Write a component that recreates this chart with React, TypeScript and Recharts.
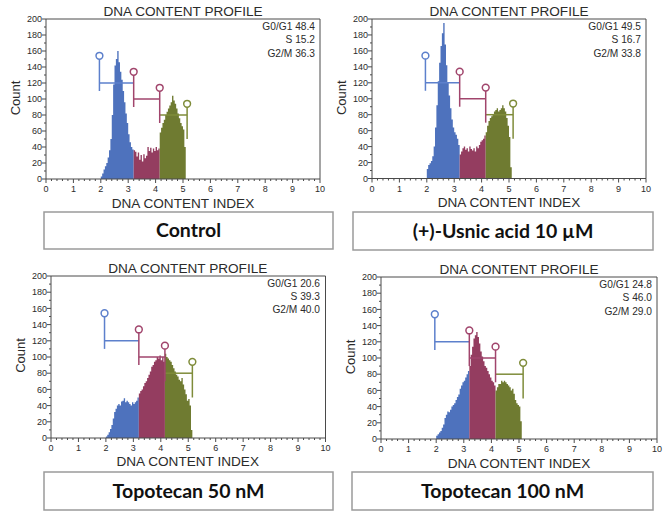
import React from 'react';
import { ComposedChart, Area, XAxis, YAxis, ReferenceLine, ReferenceDot } from 'recharts';

// ---------- data ----------
const binStart = [
  2.0, 2.05, 2.1, 2.15, 2.2, 2.25, 2.3, 2.35, 2.4, 2.45, 2.5, 2.55, 2.6, 2.65, 2.7, 2.75,
  2.8, 2.85, 2.9, 2.95, 3.0, 3.05, 3.1, 3.15, 3.2, 3.25, 3.3, 3.35, 3.4, 3.45, 3.5, 3.55,
  3.6, 3.65, 3.7, 3.75, 3.8, 3.85, 3.9, 3.95, 4.0, 4.05, 4.1, 4.15, 4.2, 4.25, 4.3, 4.35,
  4.4, 4.45, 4.5, 4.55, 4.6, 4.65, 4.7, 4.75, 4.8, 4.85, 4.9, 4.95, 5.0, 5.05, 5.1, 5.15,
];

const controlCounts = [
  3, 7, 12, 16, 20, 27, 36, 50, 80, 118, 142, 150, 160, 146, 134, 124, 110, 96, 82, 70, 56, 46, 40, 37,
  36, 34, 28, 33, 24, 30, 22, 31, 26, 29, 40, 35, 39, 33, 38, 35, 40, 36, 38,
  58, 64, 70, 74, 80, 84, 88, 92, 96, 104, 98, 94, 88, 82, 76, 70, 66, 62, 40, 0, 0,
];
const usnicCounts = [
  12, 17, 19, 22, 28, 40, 64, 92, 122, 145, 166, 182, 195, 168, 142, 120, 104, 88, 74, 64, 58, 55, 50, 42,
  30, 34, 38, 40, 36, 38, 34, 40, 37, 35, 38, 34, 40, 38, 42, 46, 48, 50, 54,
  58, 66, 72, 76, 78, 80, 84, 86, 88, 84, 86, 88, 92, 88, 84, 76, 66, 52, 14, 0, 0,
];
const topo50Counts = [
  2, 4, 7, 11, 16, 24, 32, 36, 40, 42, 40, 45, 46, 49, 44, 46, 44, 42, 40, 44, 42, 44, 46, 50,
  55, 58, 60, 64, 68, 70, 74, 78, 82, 88, 90, 94, 96, 100, 98, 102, 96, 100, 94,
  104, 100, 98, 96, 94, 90, 86, 82, 78, 76, 72, 70, 74, 66, 60, 54, 46, 48, 40, 10, 0,
];
const topo100Counts = [
  4, 6, 8, 10, 14, 18, 26, 30, 34, 33, 36, 40, 42, 44, 48, 52, 55, 62, 66, 70, 72, 76, 80, 84,
  90, 104, 114, 124, 128, 132, 126, 118, 108, 102, 96, 90, 88, 84, 80, 76, 72, 70, 66,
  60, 64, 68, 68, 72, 70, 72, 70, 68, 66, 64, 60, 62, 56, 48, 44, 42, 40, 22, 0, 0,
];

const panelNames = ['Control', '(+)-Usnic acid 10 \u00b5M', 'Topotecan 50 nM', 'Topotecan 100 nM'];
const g1Pct = [48.4, 49.5, 20.6, 24.8];
const sPct = [15.2, 16.7, 39.3, 46.0];
const g2Pct = [36.3, 33.8, 40.0, 29.0];
const allCounts = [controlCounts, usnicCounts, topo50Counts, topo100Counts];

// gate markers (DNA index) and their handle heights (count)
const gateX = [1.95, 3.2, 4.15, 5.15];
const gateTop = [154, 134, 114, 94];
const gateBar = [120, 100, 80];
const gateLow = [110, 90, 70, 50];

const yTickLabels = [0, 20, 40, 60, 80, 100, 120, 140, 160, 180, 200];
const xTickLabels = [0, 1, 2, 3, 4, 5, 6, 7, 8, 9, 10];

// ---------- styles / layout ----------
const FILL = { g1: '#4e72bd', s: '#943d60', g2: '#6f7b31' };
const LINE = { g1: '#5d80cc', s: '#a1456c', g2: '#7f8c3a' };
const AXIS = '#4a4a4a';
const TXT = '#2b2b2b';
const ARIAL = '"Liberation Sans", Arial, sans-serif';

const layout = [
  { L: 46, R: 320, T: 19, B: 179, box: { l: 44, t: 212, r: 333, b: 249 } },
  { L: 372, R: 646, T: 19, B: 178.5, box: { l: 353, t: 212, r: 653, b: 250 } },
  { L: 50.5, R: 325, T: 275.5, B: 437.5, box: { l: 44, t: 472, r: 333, b: 510 } },
  { L: 381, R: 657, T: 277, B: 439, box: { l: 352, t: 472, r: 653, b: 510 } },
];

const yTicks = yTickLabels.flatMap((v) => (v < 200 ? [v, v + 10] : [v]));
const xTicks = xTickLabels.flatMap((v) => (v < 10 ? [v, v + 0.2, v + 0.4, v + 0.6, v + 0.8] : [v]));

const buildRows = (counts: number[]) =>
  binStart.map((x, i) => {
    const v = counts[i];
    const phase = x < gateX[1] ? 'g1' : x < gateX[2] ? 's' : 'g2';
    return { x, g1: phase === 'g1' ? v : 0, s: phase === 's' ? v : 0, g2: phase === 'g2' ? v : 0 };
  });

const XTick = (props: any) => {
  const { x, y, payload } = props;
  const v = payload.value as number;
  const major = Math.abs(v - Math.round(v)) < 1e-6;
  return (
    <g>
      <line x1={x} x2={x} y1={y} y2={y + (major ? 4 : 2)} stroke={AXIS} strokeWidth={1} />
      {major && (
        <text x={x} y={y + 13} textAnchor="middle" fontSize={9} fill={TXT} fontFamily={ARIAL}>
          {Math.round(v)}
        </text>
      )}
    </g>
  );
};

const YTick = (props: any) => {
  const { x, y, payload } = props;
  const v = payload.value as number;
  const major = v % 20 === 0;
  return (
    <g>
      <line x1={x - (major ? 4 : 2)} x2={x} y1={y} y2={y} stroke={AXIS} strokeWidth={1} />
      {major && (
        <text x={x - 4} y={y} dy="0.35em" textAnchor="end" fontSize={9} fill={TXT} fontFamily={ARIAL}>
          {v}
        </text>
      )}
    </g>
  );
};

const Panel = ({ idx }: { idx: number }) => {
  const p = layout[idx];
  const rows = buildRows(allCounts[idx]);
  const W = p.R - p.L + 50;
  const H = p.B - p.T + 30;
  const gateColors = [LINE.g1, LINE.s, LINE.s, LINE.g2];
  const barColors = [LINE.g1, LINE.s, LINE.g2];
  return (
    <div style={{ position: 'absolute', left: p.L - 40, top: p.T - 10, width: W, height: H }}>
      <ComposedChart width={W} height={H} data={rows} margin={{ top: 10, right: 10, bottom: 0, left: 0 }}>
        <XAxis
          dataKey="x"
          type="number"
          domain={[0, 10]}
          ticks={xTicks}
          interval={0}
          tickSize={0}
          tickMargin={0}
          tickLine={false}
          tick={<XTick />}
          axisLine={{ stroke: AXIS }}
          height={20}
          allowDataOverflow
        />
        <YAxis
          type="number"
          domain={[0, 200]}
          ticks={yTicks}
          interval={0}
          tickSize={0}
          tickMargin={0}
          tickLine={false}
          tick={<YTick />}
          axisLine={{ stroke: AXIS }}
          width={40}
          allowDataOverflow
        />
        <ReferenceLine y={200} stroke={AXIS} />
        <ReferenceLine x={10} stroke={AXIS} />
        <Area type="stepAfter" dataKey="g1" stroke="none" fill={FILL.g1} fillOpacity={1} isAnimationActive={false} dot={false} activeDot={false} />
        <Area type="stepAfter" dataKey="s" stroke="none" fill={FILL.s} fillOpacity={1} isAnimationActive={false} dot={false} activeDot={false} />
        <Area type="stepAfter" dataKey="g2" stroke="none" fill={FILL.g2} fillOpacity={1} isAnimationActive={false} dot={false} activeDot={false} />
        {gateBar.map((yv, i) => (
          <ReferenceLine
            key={'h' + i}
            segment={[{ x: gateX[i], y: yv }, { x: gateX[i + 1], y: yv }]}
            stroke={barColors[i]}
            strokeWidth={1.5}
          />
        ))}
        {gateX.map((gx, i) => (
          <ReferenceLine
            key={'v' + i}
            segment={[{ x: gx, y: gateLow[i] }, { x: gx, y: gateTop[i] }]}
            stroke={gateColors[i]}
            strokeWidth={1.5}
          />
        ))}
        {gateX.map((gx, i) => (
          <ReferenceDot key={'d' + i} x={gx} y={gateTop[i]} r={3.4} fill="#fff" stroke={gateColors[i]} strokeWidth={1.5} />
        ))}
      </ComposedChart>
    </div>
  );
};

const Texts = () => (
  <svg width={668} height={511} style={{ position: 'absolute', left: 0, top: 0, pointerEvents: 'none' }}>
    {layout.map((p, i) => {
      const cx = (p.L + p.R) / 2;
      const b = p.box;
      return (
        <g key={i}>
          <text x={cx} y={p.T - 7.5} dy="0.35em" textAnchor="middle" fontSize={13.6} fill={TXT} fontFamily={ARIAL}>
            DNA CONTENT PROFILE
          </text>
          {[`G0/G1 ${g1Pct[i].toFixed(1)}`, `S ${sPct[i].toFixed(1)}`, `G2/M ${g2Pct[i].toFixed(1)}`].map((s, k) => (
            <text key={k} x={p.R - 5} y={p.T + 7.5 + k * 13.3} dy="0.35em" textAnchor="end" fontSize={10.2} fill={TXT} fontFamily={ARIAL}>
              {s}
            </text>
          ))}
          <text
            x={p.L - 30.5}
            y={(p.T + p.B) / 2 - 1}
            dy="0.35em"
            textAnchor="middle"
            fontSize={13}
            fill={TXT}
            fontFamily={ARIAL}
            transform={`rotate(-90 ${p.L - 30.5} ${(p.T + p.B) / 2 - 1})`}
          >
            Count
          </text>
          <text x={cx} y={p.B + 24} dy="0.35em" textAnchor="middle" fontSize={13.6} fill={TXT} fontFamily={ARIAL}>
            DNA CONTENT INDEX
          </text>
          <rect x={b.l} y={b.t} width={b.r - b.l} height={b.b - b.t} fill="#fff" stroke="#9a9a9a" strokeWidth={1.5} />
          <text x={(b.l + b.r) / 2} y={(b.t + b.b) / 2} dy="0.35em" textAnchor="middle" fontSize={19.5} fontWeight={700} fill="#111" fontFamily="Lato, 'Open Sans', sans-serif">
            {panelNames[i]}
          </text>
        </g>
      );
    })}
  </svg>
);

export default function App() {
  return (
    <div style={{ position: 'absolute', left: 0, top: 0, width: 668, height: 511, background: '#fff', overflow: 'hidden' }}>
      {layout.map((_, i) => (
        <Panel key={i} idx={i} />
      ))}
      <Texts />
    </div>
  );
}
